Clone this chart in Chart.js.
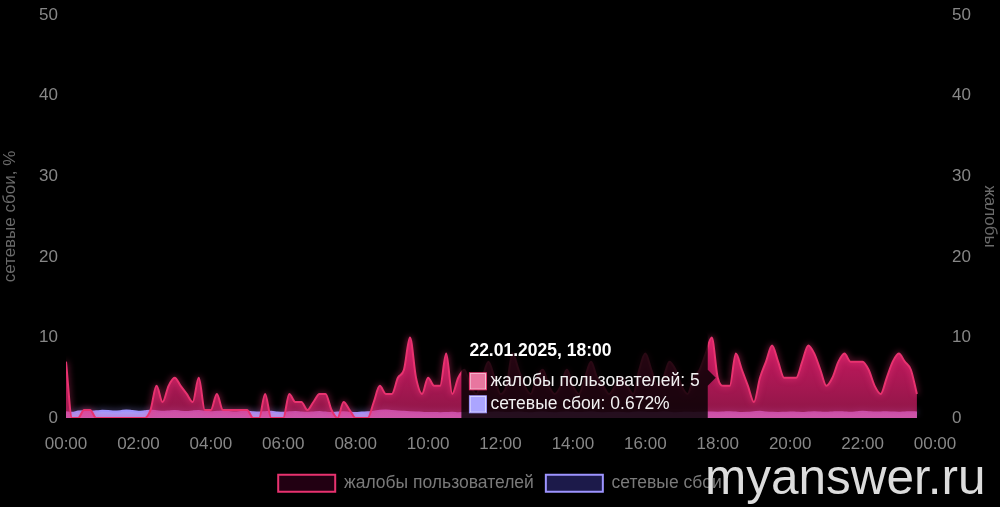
<!DOCTYPE html>
<html lang="ru">
<head>
<meta charset="UTF-8">
<title>Жалобы и сетевые сбои</title>
<style>
  html, body { margin: 0; padding: 0; background: #000; }
  #wrap { position: relative; width: 1000px; height: 507px; }
  #mark {
    position: absolute; left: 705px; top: 448px;
    font: 49.5px Arial, "Liberation Sans", sans-serif;
    color: #dcdcdc; pointer-events: none;
  }
</style>
</head>
<body>
<div id="wrap">
  <canvas id="chart" width="1000" height="507"></canvas>
  <div id="mark">myanswer.ru</div>
</div>

<script src="https://cdn.jsdelivr.net/npm/chart.js"></script>
<script>
// 10-minute buckets, 22.01.2025 00:00 .. 23:30
const complaints = [
  7, 0, 0, 1, 1, 0, 0, 0, 0, 0,
  0, 0, 0, 0, 1, 4, 2, 4, 5, 4,
  3, 2, 5, 1, 1, 3, 1, 1, 1, 1,
  1, 0, 0, 3, 0, 0, 0, 3, 2, 2,
  1, 2, 3, 3, 1, 0, 2, 1, 0, 0,
  0, 2, 4, 3, 3, 5, 6, 10, 5, 3,
  5, 4, 4, 8, 3, 5, 6, 4, 3, 5,
  7, 5, 3, 4, 8, 6, 4, 3, 5, 6,
  4, 3, 4, 6, 4, 3, 5, 7, 5, 4,
  3, 4, 5, 4, 3, 6, 8, 6, 4, 5,
  7, 6, 4, 3, 5, 6, 8, 10, 5, 4,
  4, 8, 6, 4, 2, 5, 7, 9, 7, 5,
  5, 5, 7, 9, 8, 6, 4, 5, 7, 8,
  7, 7, 7, 6, 4, 3, 5, 7, 8, 7,
  6, 3
];
const failures = [
  0.72, 0.65, 0.81, 0.86, 0.78, 0.84, 0.90, 0.88, 0.82, 0.86,
  0.95, 0.88, 0.80, 0.84, 0.90, 0.85, 0.78, 0.82, 0.88, 0.80,
  0.76, 0.83, 0.87, 0.80, 0.74, 0.78, 0.82, 0.75, 0.70, 0.76,
  0.80, 0.72, 0.68, 0.74, 0.79, 0.70, 0.66, 0.72, 0.77, 0.69,
  0.65, 0.70, 0.75, 0.68, 0.63, 0.70, 0.74, 0.67, 0.62, 0.68,
  0.72, 0.80, 0.90, 0.95, 0.88, 0.82, 0.78, 0.74, 0.70, 0.66,
  0.62, 0.64, 0.60, 0.63, 0.66, 0.61, 0.64, 0.68, 0.65, 0.62,
  0.66, 0.70, 0.67, 0.63, 0.66, 0.69, 0.64, 0.60, 0.65, 0.68,
  0.64, 0.61, 0.66, 0.70, 0.66, 0.62, 0.65, 0.68, 0.64, 0.60,
  0.63, 0.67, 0.64, 0.61, 0.65, 0.69, 0.66, 0.62, 0.64, 0.68,
  0.65, 0.61, 0.64, 0.67, 0.63, 0.66, 0.70, 0.68, 0.672, 0.70,
  0.74, 0.68, 0.64, 0.66, 0.72, 0.78, 0.70, 0.65, 0.63, 0.66,
  0.70, 0.67, 0.64, 0.68, 0.72, 0.69, 0.66, 0.70, 0.74, 0.70,
  0.66, 0.72, 0.80, 0.74, 0.68, 0.70, 0.73, 0.69, 0.66, 0.70,
  0.74, 0.70
];
const minutes = complaints.map((_, i) => i * 10);
const dateLabel = '22.01.2025';
const seriesNames = ['жалобы пользователей', 'сетевые сбои'];
const axisTitles = { left: 'сетевые сбои, %', right: 'жалобы' };
const tooltipIndex = minutes.indexOf(18 * 60);

const FONT = 'Arial, "Liberation Sans", sans-serif';
const PINK = '#e8326f';
const LILAC = '#9d94ff';

function hhmm(m) {
  const h = Math.floor(m / 60) % 24, mm = m % 60;
  return String(h).padStart(2, '0') + ':' + String(mm).padStart(2, '0');
}

function complaintsFill(c) {
  const chart = c.chart, area = chart.chartArea;
  if (!area) return 'rgba(200,20,90,0.6)';
  const top = chart.scales.y.getPixelForValue(10);
  const g = chart.ctx.createLinearGradient(0, top, 0, 470);
  const s = (area.bottom - top) / (470 - top);
  g.addColorStop(0, 'rgba(218,26,104,0.93)');
  g.addColorStop(s, 'rgba(232,36,116,0.6)');
  g.addColorStop(1, 'rgba(34,0,18,1)');
  return g;
}

function failuresFill(c) {
  const chart = c.chart, area = chart.chartArea;
  if (!area) return 'rgba(165,160,250,1)';
  const top = area.bottom - 12;
  const g = chart.ctx.createLinearGradient(0, top, 0, 470);
  const s = (area.bottom - top) / (470 - top);
  g.addColorStop(0, 'rgba(170,165,255,1)');
  g.addColorStop(s, 'rgba(165,160,250,1)');
  g.addColorStop(1, 'rgba(28,26,74,1)');
  return g;
}

// soft glow under the lines
const glow = {
  id: 'glow',
  beforeDatasetDraw(chart, args) {
    const ctx = chart.ctx;
    ctx.save();
    ctx.shadowColor = args.index === 0 ? 'rgba(255,60,130,0.8)' : 'rgba(160,150,255,0.8)';
    ctx.shadowBlur = 6;
  },
  afterDatasetDraw(chart) {
    chart.ctx.restore();
  }
};

// keep the plot box where the reference has it
function fitY(width) {
  return s => { s.width = width; s.paddingTop = 0; s.paddingBottom = 0; };
}

const chart = new Chart(document.getElementById('chart'), {
  type: 'line',
  data: {
    datasets: [{
      label: seriesNames[0],
      data: complaints.map((v, i) => ({ x: minutes[i], y: v })),
      yAxisID: 'y',
      borderColor: PINK,
      backgroundColor: complaintsFill,
      borderWidth: 2,
      fill: 'origin',
      cubicInterpolationMode: 'monotone',
      pointRadius: 0,
      pointHoverRadius: 0
    }, {
      label: seriesNames[1],
      data: failures.map((v, i) => ({ x: minutes[i], y: v })),
      yAxisID: 'y1',
      borderColor: LILAC,
      backgroundColor: failuresFill,
      borderWidth: 2,
      fill: 'origin',
      cubicInterpolationMode: 'monotone',
      pointRadius: 0,
      pointHoverRadius: 0
    }]
  },
  options: {
    responsive: false,
    animation: false,
    layout: { padding: { top: 15, bottom: 5 } },
    interaction: { mode: 'index', intersect: false },
    scales: {
      x: {
        type: 'linear', min: 0, max: 1440,
        grid: { display: false }, border: { display: false },
        ticks: {
          stepSize: 120, padding: 8, color: '#878787', maxRotation: 0,
          font: { family: FONT, size: 17 },
          callback: v => hhmm(v)
        }
      },
      y1: {
        position: 'left', min: 0, max: 50,
        grid: { display: false }, border: { display: false },
        ticks: { stepSize: 10, padding: 0, color: '#878787', font: { family: FONT, size: 17 } },
        title: { display: true, text: axisTitles.left, color: '#6a6a6a', font: { family: FONT, size: 17 }, padding: 0 },
        afterFit: fitY(66)
      },
      y: {
        position: 'right', min: 0, max: 50,
        grid: { display: false }, border: { display: false },
        ticks: { stepSize: 10, padding: 9, color: '#878787', font: { family: FONT, size: 17 } },
        title: { display: true, text: axisTitles.right, color: '#6a6a6a', font: { family: FONT, size: 17 }, padding: 0 },
        afterFit: fitY(65)
      }
    },
    plugins: {
      legend: {
        position: 'bottom',
        labels: {
          boxWidth: 57, boxHeight: 17, padding: 12, color: '#7a7a7a',
          font: { family: FONT, size: 17.5 }
        }
      },
      tooltip: {
        position: 'nearest',
        xAlign: 'right', yAlign: 'center',
        backgroundColor: 'rgba(0,0,0,0.82)',
        padding: { x: 8, y: 9 }, caretSize: 8, caretPadding: 2,
        titleFont: { family: FONT, size: 17.5, weight: 'bold' },
        bodyFont: { family: FONT, size: 17.5 },
        titleColor: '#fff', bodyColor: '#f2f2f2',
        titleMarginBottom: 9, bodySpacing: 2,
        boxWidth: 17, boxHeight: 17, boxPadding: 2,
        callbacks: {
          title: items => dateLabel + ', ' + hhmm(items[0].parsed.x),
          label: item => item.datasetIndex === 0
            ? seriesNames[0] + ': ' + item.parsed.y
            : seriesNames[1] + ': ' + item.parsed.y + '%',
          labelColor: item => item.datasetIndex === 0
            ? { borderColor: PINK, backgroundColor: '#e8769f' }
            : { borderColor: LILAC, backgroundColor: '#aba5ff' }
        }
      }
    }
  },
  plugins: [glow]
});

const pt = chart.getDatasetMeta(0).data[tooltipIndex];
chart.tooltip.setActiveElements(
  [{ datasetIndex: 0, index: tooltipIndex }, { datasetIndex: 1, index: tooltipIndex }],
  { x: pt.x, y: pt.y }
);
chart.update();
</script>
</body>
</html>
